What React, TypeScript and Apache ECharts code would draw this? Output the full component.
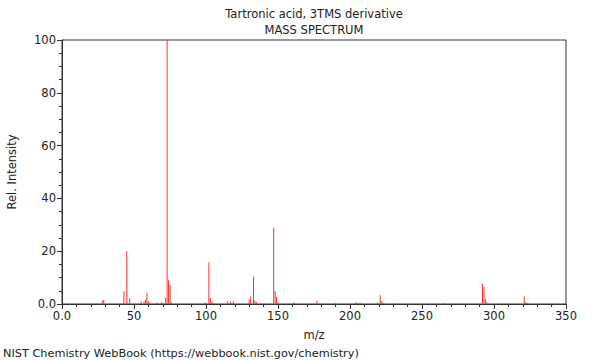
import React, { useEffect, useRef } from "react";
import * as echarts from "echarts";

const mz: number[] = [
  28, 29, 43, 45, 47, 55, 57, 58, 59, 60, 61, 66, 69, 70, 72, 73, 74, 75, 76,
  99, 100, 102, 103, 104, 105, 115, 117, 119, 130, 131, 133, 134, 135,
  147, 148, 149, 150, 161, 177, 190, 204, 205, 207, 219, 221, 222, 223, 233,
  265, 292, 293, 294, 295, 321, 322, 323,
];
const intensity: number[] = [
  1.2, 1.6, 4.8, 20, 2.2, 0.9, 0.9, 1.6, 4.3, 1.0, 0.7, 0.6, 0.8, 0.4, 2.4, 100, 9.0, 7.2, 0.7,
  0.5, 0.4, 15.8, 2.4, 1.0, 0.5, 1.0, 1.0, 1.0, 1.8, 2.8, 10.4, 1.2, 0.8,
  28.8, 4.8, 2.7, 0.7, 0.7, 1.1, 0.4, 0.6, 0.5, 0.5, 0.5, 3.3, 1.0, 0.5, 0.4,
  0.4, 7.7, 6.4, 1.8, 0.7, 2.9, 0.8, 0.4,
];

const titleText = "Tartronic acid, 3TMS derivative";
const subTitleText = "MASS SPECTRUM";
const xName = "m/z";
const yName = "Rel. Intensity";
const footer = "NIST Chemistry WebBook (https://webbook.nist.gov/chemistry)";

const fmt = (v: number) => (v === 0 ? "0.0" : String(v));

export default function App() {
  const ref = useRef<HTMLDivElement>(null);
  useEffect(() => {
    if (!ref.current) return;
    const chart = echarts.init(ref.current, undefined, { renderer: "svg" });
    const font = "DejaVu Sans";
    const fs = 11.5;
    const axisColor = "#333";
    chart.setOption({
      animation: false,
      textStyle: { fontFamily: font },
      grid: {
        left: 62,
        right: 34,
        top: 40,
        bottom: 56,
        containLabel: false,
        outerBoundsMode: "none",
        show: true,
        borderColor: axisColor,
        borderWidth: 1,
        backgroundColor: "transparent",
      },
      xAxis: {
        type: "value",
        min: 0,
        max: 350,
        interval: 50,
        name: xName,
        nameLocation: "middle",
        nameGap: 25,
        nameTextStyle: { fontSize: fs, color: "#222", fontFamily: font },
        axisLine: { show: true, lineStyle: { color: axisColor } },
        axisTick: { show: true, length: 5, lineStyle: { color: axisColor } },
        minorTick: { show: true, splitNumber: 5, length: 3, lineStyle: { color: axisColor } },
        axisLabel: { formatter: fmt, fontSize: fs, color: "#222", margin: 6, fontFamily: font },
        splitLine: { show: false },
      },
      yAxis: {
        type: "value",
        min: 0,
        max: 100,
        interval: 20,
        name: yName,
        nameLocation: "middle",
        nameGap: 44,
        nameTextStyle: { fontSize: fs, color: "#222", fontFamily: font },
        axisLine: { show: true, lineStyle: { color: axisColor } },
        axisTick: { show: true, length: 5, lineStyle: { color: axisColor } },
        minorTick: { show: true, splitNumber: 4, length: 3, lineStyle: { color: axisColor } },
        axisLabel: { formatter: fmt, fontSize: fs, color: "#222", margin: 6, fontFamily: font },
        splitLine: { show: false },
      },
      series: [
        {
          type: "bar",
          barWidth: 1,
          itemStyle: { color: "#ff3030" },
          data: mz.map((m, i) => [m, intensity[i]]),
        },
      ],
      graphic: [
        {
          type: "text",
          x: 314,
          y: 14,
          style: {
            text: titleText,
            font: `${fs}px ${font}`,
            fill: "#222",
            textAlign: "center",
            textVerticalAlign: "middle",
          },
        },
        {
          type: "text",
          x: 314,
          y: 30,
          style: {
            text: subTitleText,
            font: `${fs}px ${font}`,
            fill: "#222",
            textAlign: "center",
            textVerticalAlign: "middle",
          },
        },
        {
          type: "text",
          x: 3,
          y: 353,
          style: {
            text: footer,
            font: `11.3px ${font}`,
            fill: "#222",
            textAlign: "left",
            textVerticalAlign: "middle",
          },
        },
      ],
    });
    return () => chart.dispose();
  }, []);
  return (
    <div
      ref={ref}
      style={{ position: "fixed", left: 0, top: 0, width: 600, height: 360, background: "#fff" }}
    />
  );
}
